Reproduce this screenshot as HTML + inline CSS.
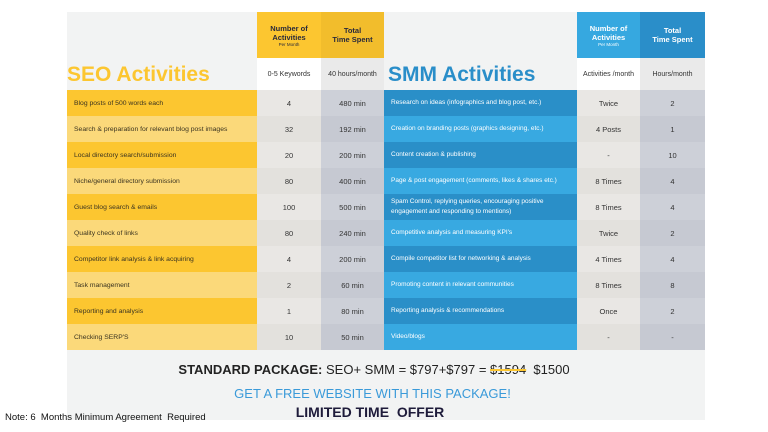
<!DOCTYPE html><html><head><style>
body{margin:0;width:768px;height:432px;background:#fff;position:relative;overflow:hidden;font-family:"Liberation Sans",sans-serif}
.a{position:absolute;box-sizing:border-box}
.c{display:flex;align-items:center;justify-content:center;text-align:center;font-size:7.5px;color:#333}
.l{display:flex;align-items:center;padding-left:7px;font-size:6.8px;color:#3a3320;white-space:nowrap}
.w{color:#fff}
</style></head><body>
<div class="a" style="left:67px;top:12px;width:638px;height:408px;background:#f2f3f3"></div>
<div class="a c" style="left:257px;top:12px;width:64px;height:46px;background:#fcc630;font-weight:bold;color:#2a2a3a;font-size:7.5px;flex-direction:column">Number of<br>Activities<span style="font-size:4.5px;font-weight:normal">Per Month</span></div>
<div class="a c" style="left:321px;top:12px;width:63px;height:46px;background:#f2bd2c;font-weight:bold;color:#2a2a3a">Total<br>Time Spent</div>
<div class="a c" style="left:257px;top:58px;width:64px;height:32px;background:#fff;font-size:7px">0-5 Keywords</div>
<div class="a c" style="left:321px;top:58px;width:63px;height:32px;background:#eaeaea;font-size:7px">40 hours/month</div>
<div class="a c w" style="left:577px;top:12px;width:63px;height:46px;background:#36a8e0;font-weight:bold;flex-direction:column">Number of<br>Activities<span style="font-size:4.5px;font-weight:normal">Per Month</span></div>
<div class="a c w" style="left:640px;top:12px;width:65px;height:46px;background:#2a8ec9;font-weight:bold">Total<br>Time Spent</div>
<div class="a c" style="left:577px;top:58px;width:63px;height:32px;background:#fff;font-size:7px">Activities /month</div>
<div class="a c" style="left:640px;top:58px;width:65px;height:32px;background:#eaeaea;font-size:7px">Hours/month</div>
<div class="a" style="left:67px;top:63px;font-size:21px;font-weight:bold;color:#fcc630">SEO Activities</div>
<div class="a" style="left:388px;top:63px;font-size:21px;font-weight:bold;color:#2a8ec9">SMM Activities</div>
<div id="rows"></div>
<div class="a" style="left:0;top:362px;width:768px;text-align:center;font-size:13px;color:#222"><span style="position:relative;left:-10px"><b>STANDARD PACKAGE:</b> SEO+ SMM = $797+$797 = <span style="text-decoration:line-through;text-decoration-color:#fcc630;text-decoration-thickness:2px">$1594</span>&nbsp; $1500</span></div>
<div class="a" style="left:0;top:386px;width:745px;text-align:center;font-size:13px;color:#3a9ad9">GET A FREE WEBSITE WITH THIS PACKAGE!</div>
<div class="a" style="left:0;top:404px;width:740px;text-align:center;font-size:14px;font-weight:bold;color:#1e1b3a">LIMITED TIME&nbsp; OFFER</div>
<div class="a" style="left:5px;top:412px;font-size:9.5px;color:#111">Note: 6&nbsp; Months Minimum Agreement&nbsp; Required</div>
<script>
var d=[["Blog posts of 500 words each","4","480 min","Research on ideas (infographics and blog post, etc.)","Twice","2"],
["Search &amp; preparation for relevant blog post images","32","192 min","Creation on branding posts (graphics designing, etc.)","4 Posts","1"],
["Local directory search/submission","20","200 min","Content creation &amp; publishing","-","10"],
["Niche/general directory submission","80","400 min","Page &amp; post engagement (comments, likes &amp; shares etc.)","8 Times","4"],
["Guest blog search &amp; emails","100","500 min","Spam Control, replying queries, encouraging positive<br>engagement and responding to mentions)","8 Times","4"],
["Quality check of links","80","240 min","Competitive analysis and measuring KPI's","Twice","2"],
["Competitor link analysis &amp; link acquiring","4","200 min","Compile competitor list for networking &amp; analysis","4 Times","4"],
["Task management","2","60 min","Promoting content in relevant communities","8 Times","8"],
["Reporting and analysis","1","80 min","Reporting analysis &amp; recommendations","Once","2"],
["Checking SERP'S","10","50 min","Video/blogs","-","-"]];
var h="";
d.forEach(function(r,i){var y=90+i*26,o=i%2==0;
h+='<div class="a l" style="left:67px;top:'+y+'px;width:190px;height:26px;background:'+(o?'#fcc630':'#fbd97a')+'">'+r[0]+'</div>';
h+='<div class="a c" style="left:257px;top:'+y+'px;width:64px;height:26px;background:'+(o?'#e9e7e4':'#e3e1dd')+'">'+r[1]+'</div>';
h+='<div class="a c" style="left:321px;top:'+y+'px;width:63px;height:26px;background:'+(o?'#cdd0d8':'#c6c9d2')+'">'+r[2]+'</div>';
h+='<div class="a l w" style="left:384px;top:'+y+'px;width:193px;height:26px;background:'+(o?'#2a8fc8':'#38a9e1')+';line-height:1.5;font-size:6.5px">'+r[3]+'</div>';
h+='<div class="a c" style="left:577px;top:'+y+'px;width:63px;height:26px;background:'+(o?'#e9e7e4':'#e3e1dd')+'">'+r[4]+'</div>';
h+='<div class="a c" style="left:640px;top:'+y+'px;width:65px;height:26px;background:'+(o?'#cdd0d8':'#c6c9d2')+'">'+r[5]+'</div>';});
document.getElementById("rows").innerHTML=h;
</script>
</body></html>
